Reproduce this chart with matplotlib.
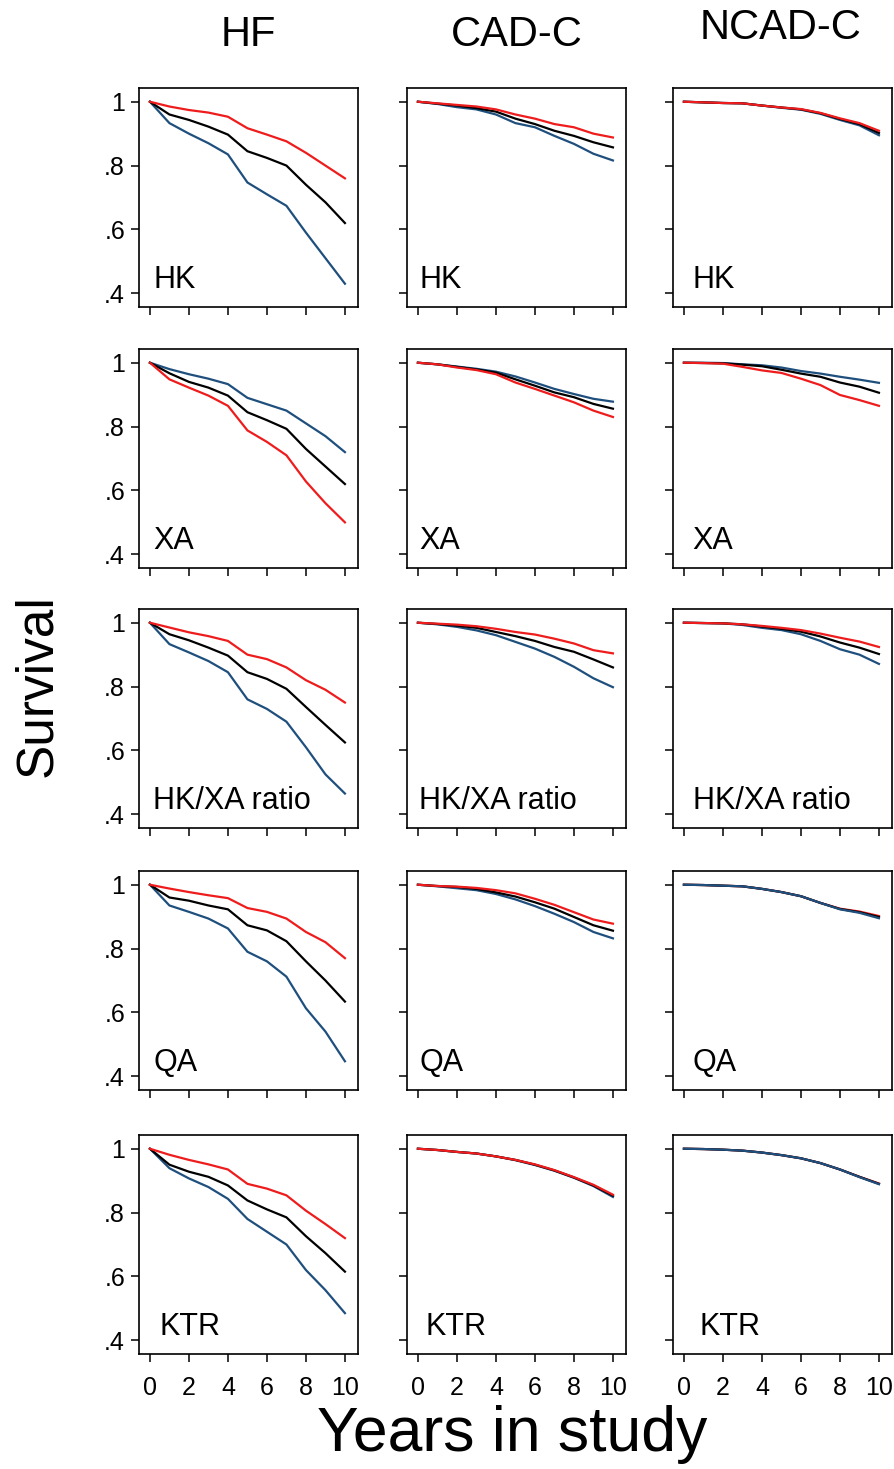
import matplotlib
matplotlib.use("Agg")
import matplotlib.pyplot as plt

plt.rcParams['font.family'] = ['Liberation Sans', 'DejaVu Sans']

years = [0, 1, 2, 3, 4, 5, 6, 7, 8, 9, 10]
columns = ["HF", "CAD-C", "NCAD-C"]
rows = ["HK", "XA", "HK/XA ratio", "QA", "KTR"]

# survival, one list per group (red / black / blue)
hf_hk_red = [1, .985, .974, .966, .953, .917, .897, .876, .84, .80, .76]
hf_hk_black = [1, .96, .943, .922, .897, .845, .824, .80, .74, .685, .62]
hf_hk_blue = [1, .933, .90, .87, .835, .747, .71, .674, .59, .51, .43]

hf_xa_red = [1, .948, .922, .897, .865, .788, .752, .71, .628, .56, .50]
hf_xa_black = [1, .967, .94, .922, .897, .845, .82, .793, .73, .675, .62]
hf_xa_blue = [1, .98, .964, .95, .933, .89, .87, .85, .81, .77, .72]

hf_ratio_red = [1, .985, .97, .958, .943, .90, .886, .86, .82, .79, .75]
hf_ratio_black = [1, .964, .945, .922, .897, .845, .824, .793, .736, .68, .625]
hf_ratio_blue = [1, .933, .907, .88, .845, .76, .73, .69, .61, .525, .465]

hf_qa_red = [1, .988, .977, .967, .958, .927, .915, .894, .852, .82, .77]
hf_qa_black = [1, .96, .95, .935, .923, .873, .857, .823, .76, .70, .634]
hf_qa_blue = [1, .935, .915, .894, .863, .79, .76, .712, .613, .54, .447]

hf_ktr_red = [1, .981, .965, .951, .935, .89, .875, .854, .806, .764, .72]
hf_ktr_black = [1, .95, .928, .912, .885, .838, .81, .785, .726, .673, .615]
hf_ktr_blue = [1, .939, .907, .88, .843, .78, .74, .70, .62, .557, .485]

cad_hk_red = [1, .995, .99, .985, .976, .96, .947, .93, .92, .90, .888]
cad_hk_black = [1, .994, .988, .98, .969, .947, .93, .909, .893, .873, .857]
cad_hk_blue = [1, .993, .983, .976, .96, .933, .92, .893, .868, .837, .816]

cad_xa_red = [1, .995, .985, .977, .964, .938, .918, .897, .876, .85, .83]
cad_xa_black = [1, .995, .987, .979, .969, .948, .928, .907, .892, .871, .856]
cad_xa_blue = [1, .995, .988, .981, .972, .957, .938, .918, .902, .887, .878]

cad_ratio_red = [1, .997, .994, .989, .981, .971, .963, .95, .935, .914, .904]
cad_ratio_black = [1, .996, .991, .984, .971, .958, .943, .924, .909, .885, .86]
cad_ratio_blue = [1, .995, .987, .976, .961, .94, .919, .893, .862, .826, .798]

cad_qa_red = [1, .996, .994, .99, .983, .973, .956, .937, .914, .891, .878]
cad_qa_black = [1, .996, .993, .987, .976, .963, .945, .925, .899, .873, .856]
cad_qa_blue = [1, .995, .989, .983, .971, .954, .933, .909, .883, .852, .832]

cad_ktr_red = [1, .996, .99, .985, .976, .965, .951, .933, .911, .887, .856]
cad_ktr_black = [1, .996, .99, .985, .976, .965, .950, .932, .910, .885, .853]
cad_ktr_blue = [1, .996, .99, .985, .976, .964, .949, .931, .909, .883, .849]

ncad_hk_red = [1, .998, .996, .995, .988, .982, .977, .965, .948, .933, .909]
ncad_hk_black = [1, .998, .996, .995, .988, .982, .976, .964, .946, .930, .902]
ncad_hk_blue = [1, .998, .996, .995, .988, .981, .975, .962, .943, .926, .895]

ncad_xa_red = [1, .999, .997, .987, .976, .968, .95, .93, .899, .883, .865]
ncad_xa_black = [1, .999, .998, .994, .989, .978, .966, .956, .938, .925, .906]
ncad_xa_blue = [1, 1.0, .999, .995, .992, .985, .974, .966, .956, .947, .937]

ncad_ratio_red = [1, .999, .998, .995, .99, .984, .977, .966, .953, .941, .924]
ncad_ratio_black = [1, .999, .998, .995, .988, .981, .972, .957, .938, .922, .902]
ncad_ratio_blue = [1, .999, .998, .993, .984, .977, .964, .943, .917, .90, .871]

ncad_qa_red = [1, .999, .997, .995, .987, .977, .964, .943, .925, .916, .902]
ncad_qa_black = [1, .999, .997, .995, .987, .977, .964, .943, .924, .914, .899]
ncad_qa_blue = [1, .999, .997, .995, .987, .977, .964, .943, .923, .912, .895]

ncad_ktr_red = [1, .999, .997, .994, .988, .98, .97, .955, .935, .912, .891]
ncad_ktr_black = [1, .999, .997, .994, .988, .98, .97, .955, .935, .912, .890]
ncad_ktr_blue = [1, .999, .997, .994, .988, .98, .97, .955, .935, .911, .889]

panels = [
    [(hf_hk_red, hf_hk_black, hf_hk_blue), (cad_hk_red, cad_hk_black, cad_hk_blue), (ncad_hk_red, ncad_hk_black, ncad_hk_blue)],
    [(hf_xa_red, hf_xa_black, hf_xa_blue), (cad_xa_red, cad_xa_black, cad_xa_blue), (ncad_xa_red, ncad_xa_black, ncad_xa_blue)],
    [(hf_ratio_red, hf_ratio_black, hf_ratio_blue), (cad_ratio_red, cad_ratio_black, cad_ratio_blue), (ncad_ratio_red, ncad_ratio_black, ncad_ratio_blue)],
    [(hf_qa_red, hf_qa_black, hf_qa_blue), (cad_qa_red, cad_qa_black, cad_qa_blue), (ncad_qa_red, ncad_qa_black, ncad_qa_blue)],
    [(hf_ktr_red, hf_ktr_black, hf_ktr_blue), (cad_ktr_red, cad_ktr_black, cad_ktr_blue), (ncad_ktr_red, ncad_ktr_black, ncad_ktr_blue)],
]

RED = "#ee1c1c"
BLACK = "#000000"
BLUE = "#1f4f7d"

W, H = 895, 1469
fig = plt.figure(figsize=(W / 100, H / 100), dpi=100)

col_left = [139, 407, 673]
row_top = [88, 349, 609, 871, 1135]
aw, ah = 219, 219

label_x = [0.065, 0.055, 0.09]

for r in range(5):
    for c in range(3):
        ax = fig.add_axes([col_left[c] / W, 1 - (row_top[r] + ah) / H, aw / W, ah / H])
        red, black, blue = panels[r][c]
        # where the three curves overlap the blue one sits on top
        blue_on_top = (c == 2 and r >= 3)
        if blue_on_top:
            ax.plot(years, red, color=RED, lw=1.6)
            ax.plot(years, black, color=BLACK, lw=1.6)
            ax.plot(years, blue, color=BLUE, lw=1.6)
        else:
            ax.plot(years, blue, color=BLUE, lw=1.6)
            ax.plot(years, black, color=BLACK, lw=1.6)
            ax.plot(years, red, color=RED, lw=1.6)
        ax.set_xlim(-0.56, 10.67)
        ax.set_ylim(0.357, 1.043)
        ax.set_xticks([0, 2, 4, 6, 8, 10])
        ax.set_yticks([0.4, 0.6, 0.8, 1.0])
        ax.tick_params(direction='out', length=6, width=1.1, labelsize=18)
        ax.tick_params(axis='x', pad=10)
        ax.tick_params(axis='y', pad=4)
        for s in ax.spines.values():
            s.set_linewidth(1.2)
        if c == 0:
            ax.set_yticklabels([".4", ".6", ".8", "1"])
        else:
            ax.set_yticklabels([])
        if r == 4:
            ax.set_xticklabels([str(v) for v in [0, 2, 4, 6, 8, 10]])
        else:
            ax.set_xticklabels([])
        lx = label_x[c]
        if rows[r] == "KTR":
            lx += 0.03
        ax.text(lx, 0.085, rows[r], transform=ax.transAxes, fontsize=22, ha='left', va='baseline')

title_y = [35, 35, 28]
title_x = [248, 517, 781]
for c in range(3):
    fig.text(title_x[c] / W, 1 - title_y[c] / H, columns[c], fontsize=30, ha='center', va='center')

fig.text(38 / W, 1 - 686 / H, "Survival", fontsize=37, rotation=90, ha='center', va='center')
fig.text(512 / W, 1 - 1435 / H, "Years in study", fontsize=45, ha='center', va='center')

fig.savefig("out.png", dpi=100)
